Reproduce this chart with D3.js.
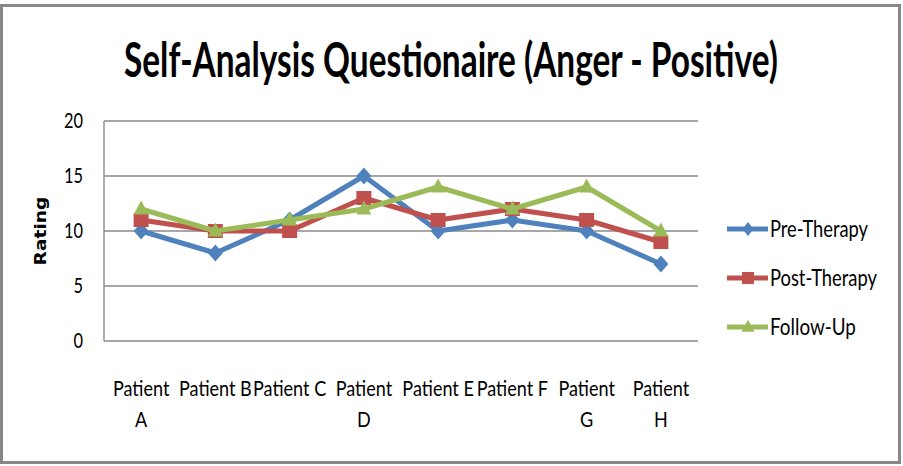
<!DOCTYPE html>
<html><head><meta charset="utf-8">
<script src="https://cdn.jsdelivr.net/npm/d3@7"></script>
<style>html,body{margin:0;padding:0;background:#fff;}svg{display:block;}</style>
</head><body>
<script>
const categories = ["Patient A","Patient B","Patient C","Patient D","Patient E","Patient F","Patient G","Patient H"];
const tickLines = [["Patient","A"],["Patient B"],["Patient C"],["Patient","D"],["Patient E"],["Patient F"],["Patient","G"],["Patient","H"]];
const preTherapy  = [10, 8, 11, 15, 10, 11, 10, 7];
const postTherapy = [11, 10, 10, 13, 11, 12, 11, 9];
const followUp    = [12, 10, 11, 12, 14, 12, 14, 10];
const seriesNames = ["Pre-Therapy","Post-Therapy","Follow-Up"];
const yTicks = [0, 5, 10, 15, 20];
const titleText = "Self-Analysis Questionaire (Anger - Positive)";

(function(){
const W = 903, H = 466;
const svg = d3.select("body").append("svg").attr("width", W).attr("height", H);
svg.append("rect").attr("x",1.5).attr("y",5.5).attr("width",898).attr("height",457)
  .attr("fill","#fff").attr("stroke","#878787").attr("stroke-width",3);

const pL = 104, pR = 698, pT = 121, pB = 341;
const x = d3.scaleBand().domain(categories).range([pL, pR]);
const y = d3.scaleLinear().domain([0, 20]).range([pB, pT]);
const font = "Lato, 'Open Sans', sans-serif";
const cx = d => x(d) + x.bandwidth()/2;

// squeeze a text horizontally to a target width, anchored at given point
function fitText(sel, tx, ty, targetW, anchor) {
  const n = sel.node();
  const len = n.getComputedTextLength();
  const sx = targetW / len;
  sel.attr("text-anchor", anchor || "start")
     .attr("transform", `translate(${tx},${ty}) scale(${sx},1)`);
}

// title
const title = svg.append("text")
  .attr("font-family", font).attr("font-weight", "bold").attr("font-size", 47)
  .attr("fill", "#000").text(titleText);
fitText(title, 124, 77, 654, "start");

// grid
svg.append("g").selectAll("line").data(yTicks).join("line")
  .attr("x1", pL).attr("x2", pR)
  .attr("y1", d => y(d)).attr("y2", d => y(d))
  .attr("stroke", "#8a8a8a").attr("stroke-width", 1.4);
svg.append("line").attr("x1", pL).attr("x2", pL).attr("y1", pT).attr("y2", pB)
  .attr("stroke", "#8a8a8a").attr("stroke-width", 1.4);

// y axis labels via d3 axis
const yAxis = svg.append("g").attr("transform", `translate(${pL - 21},0)`)
  .call(d3.axisLeft(y).tickValues(yTicks).tickSize(0).tickPadding(0));
yAxis.select(".domain").remove();
yAxis.selectAll(".tick").attr("transform", d => `translate(0,${y(d)}) scale(0.8,1)`);
yAxis.selectAll(".tick text").attr("x", 0).attr("dy", "0.36em")
  .attr("font-family", font).attr("font-size", 20.5).attr("fill", "#000");

// Rating
const rating = svg.append("text").attr("font-family", "'DejaVu Sans', Verdana, sans-serif")
  .attr("font-weight", "bold").attr("font-size", 15.5).attr("fill", "#000").text("Rating");
{
  const len = rating.node().getComputedTextLength();
  rating.attr("text-anchor", "middle")
    .attr("transform", `translate(46,231) rotate(-90) scale(${69/len},1)`);
}

// x labels
const xl = svg.append("g").selectAll("g").data(categories).join("g")
  .attr("transform", d => `translate(${cx(d)},0)`);
xl.each(function(d, i){
  const g = d3.select(this);
  tickLines[i].forEach((ln, j) => {
    g.append("text").attr("text-anchor", "middle")
      .attr("transform", `translate(0,${396 + j*31}) scale(0.86,1)`)
      .attr("font-family", font).attr("font-size", 21).attr("fill", "#000").text(ln);
  });
});

// custom marker shapes (fixed dimensions via scale factor k)
function diamond(w, h) { return { draw(c) { c.moveTo(0,-h/2); c.lineTo(w/2,0); c.lineTo(0,h/2); c.lineTo(-w/2,0); c.closePath(); } }; }
function square(w, h) { return { draw(c) { c.rect(-w/2,-h/2,w,h); } }; }
function triangle(w, h) { return { draw(c) { c.moveTo(0,-h*0.6); c.lineTo(w/2,h*0.4); c.lineTo(-w/2,h*0.4); c.closePath(); } }; }

// series
const colors = ["#4F81BD", "#C0504D", "#9BBB59"];
const seriesData = [preTherapy, postTherapy, followUp];
const plotShapes = [diamond(15,17), square(15,14), triangle(15,14)];
const legShapes = [diamond(11,14), square(12,12), triangle(13,12)];
const line = d3.line().x((d, i) => cx(categories[i])).y(d => y(d));

seriesData.forEach((vals, s) => {
  const g = svg.append("g");
  g.append("path").attr("d", line(vals)).attr("fill", "none")
    .attr("stroke", colors[s]).attr("stroke-width", 5).attr("stroke-linejoin", "round");
  g.selectAll("path.m").data(vals).join("path").attr("class", "m")
    .attr("transform", (d, i) => `translate(${cx(categories[i])},${y(d)})`)
    .attr("d", d3.symbol().type(plotShapes[s])).attr("fill", colors[s]);
});

// legend
const legW = [98, 107, 86];
const lg = svg.append("g").selectAll("g").data(seriesNames).join("g")
  .attr("transform", (d, i) => `translate(727,${229 + i*49})`);
lg.append("line").attr("x1", 0).attr("x2", 41).attr("y1", 0).attr("y2", 0)
  .attr("stroke", (d, i) => colors[i]).attr("stroke-width", 5);
lg.append("path").attr("transform", "translate(21,0)")
  .attr("d", (d, i) => d3.symbol().type(legShapes[i])())
  .attr("fill", (d, i) => colors[i]);
lg.append("text").attr("font-family", font).attr("font-size", 22.5).attr("fill", "#000").text(d => d)
  .each(function(d, i){ fitText(d3.select(this), 43, 8, legW[i], "start"); });
})();
</script>
</body></html>
